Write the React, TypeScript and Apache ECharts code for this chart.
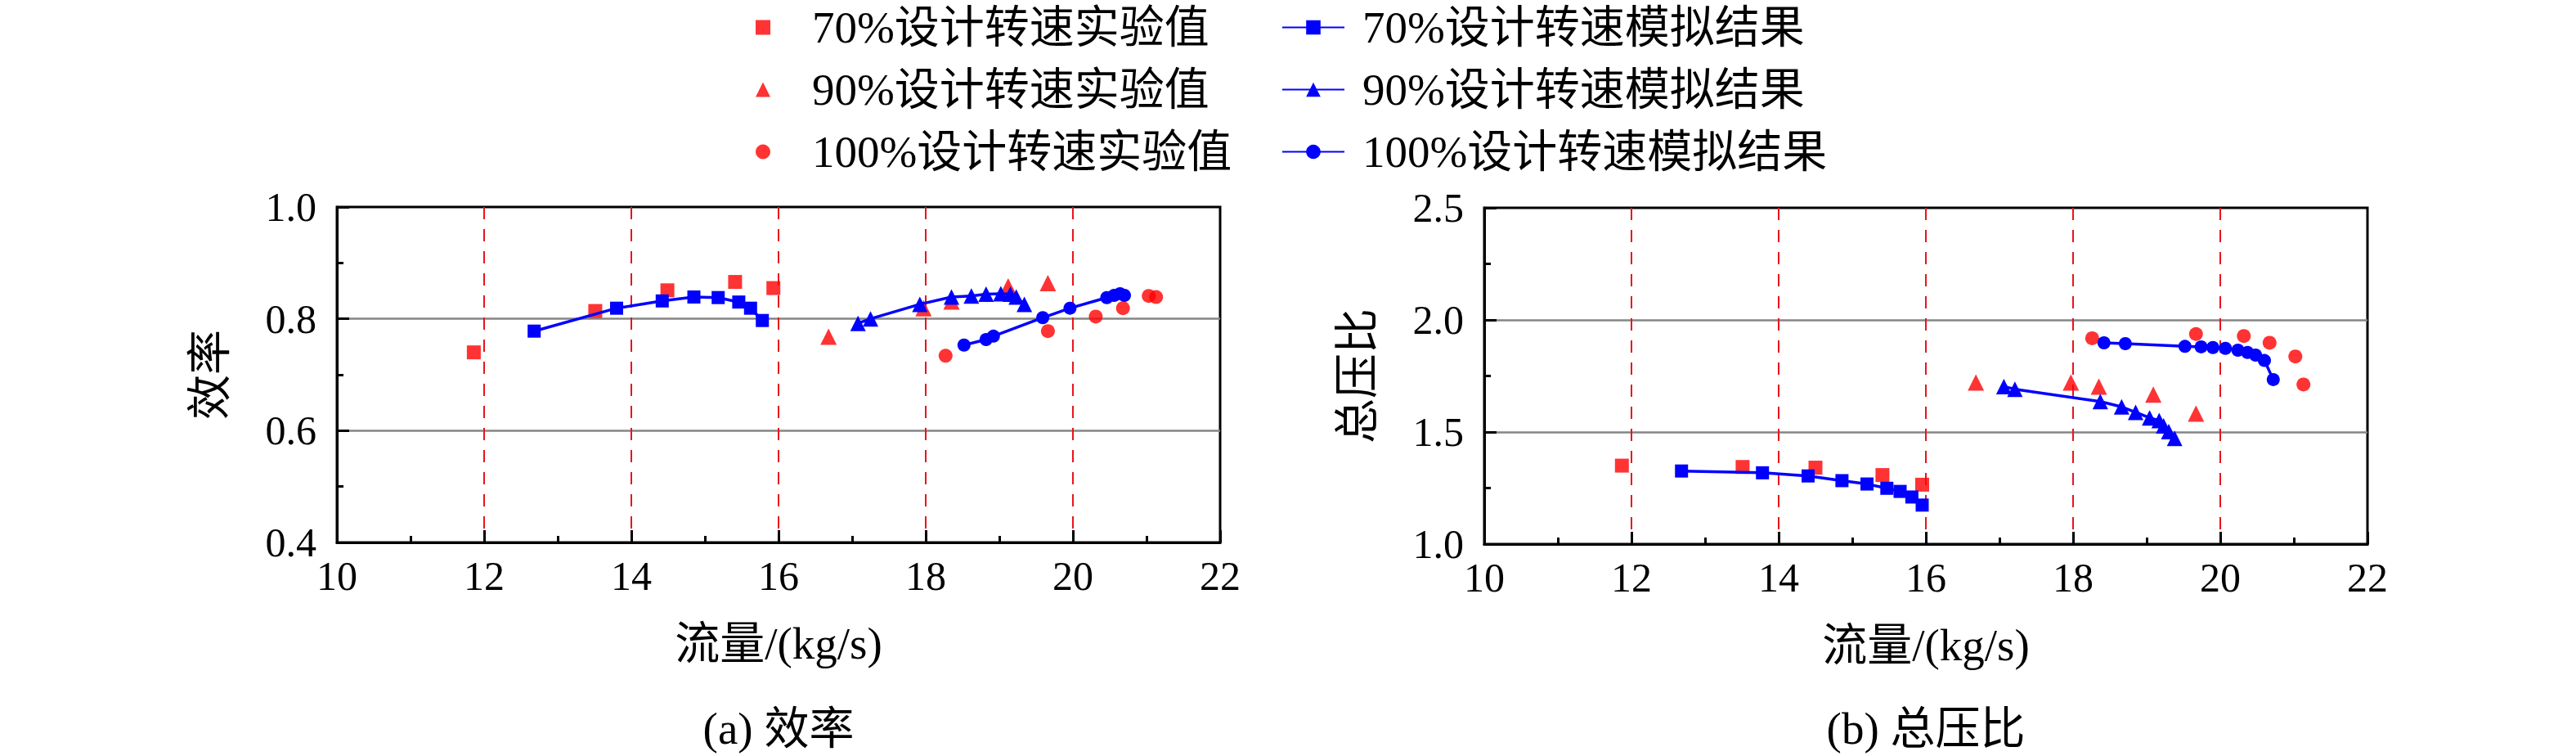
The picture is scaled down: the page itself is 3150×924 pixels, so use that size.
import React, { useEffect, useRef } from "react";
import * as echarts from "echarts";

const FONT = "'Liberation Serif', 'Times New Roman', 'Noto Sans CJK SC', serif";

const X_MIN = 10;
const X_MAX = 22;
const X_INTERVAL = 2;

const EFF_MIN = 0.4;
const EFF_MAX = 1.0;
const EFF_INTERVAL = 0.2;

const PR_MIN = 1.0;
const PR_MAX = 2.5;
const PR_INTERVAL = 0.5;

const NAMES_EXP = ["70%设计转速实验值", "90%设计转速实验值", "100%设计转速实验值"];
const NAMES_SIM = ["70%设计转速模拟结果", "90%设计转速模拟结果", "100%设计转速模拟结果"];
const SYMBOLS = ["rect", "triangle", "circle"];
const SYMBOL_SIZES = [17, 20, 17];

// (a) 效率
const effExp70 = [[11.86, 0.74], [13.51, 0.814], [14.49, 0.851], [15.41, 0.866], [15.93, 0.855]];
const effSim70 = [[12.68, 0.778], [13.8, 0.819], [14.42, 0.832], [14.85, 0.839], [15.18, 0.838], [15.46, 0.83], [15.62, 0.819], [15.78, 0.797]];
const effExp90 = [[16.68, 0.768], [17.97, 0.819], [18.35, 0.831], [19.12, 0.858], [19.66, 0.864]];
const effSim90 = [[17.08, 0.792], [17.25, 0.8], [17.92, 0.826], [18.35, 0.839], [18.62, 0.841], [18.82, 0.844], [19.02, 0.845], [19.15, 0.844], [19.23, 0.839], [19.34, 0.826]];
const effExp100 = [[18.27, 0.734], [19.66, 0.778], [20.31, 0.804], [20.68, 0.819], [21.03, 0.841], [21.13, 0.839]];
const effSim100 = [[18.52, 0.753], [18.82, 0.763], [18.92, 0.769], [19.59, 0.802], [19.96, 0.819], [20.46, 0.838], [20.56, 0.842], [20.64, 0.845], [20.7, 0.842]];

// (b) 总压比
const prExp70 = [[11.87, 1.35], [13.51, 1.344], [14.5, 1.341], [15.41, 1.308], [15.95, 1.265]];
const prSim70 = [[12.68, 1.326], [13.78, 1.318], [14.4, 1.304], [14.86, 1.283], [15.2, 1.268], [15.47, 1.249], [15.65, 1.235], [15.81, 1.21], [15.95, 1.174]];
const prExp90 = [[16.68, 1.721], [17.97, 1.721], [18.35, 1.703], [19.09, 1.667], [19.67, 1.582]];
const prSim90 = [[17.06, 1.703], [17.21, 1.691], [18.37, 1.636], [18.66, 1.612], [18.85, 1.588], [19.04, 1.563], [19.17, 1.551], [19.23, 1.527], [19.3, 1.502], [19.38, 1.472]];
const prExp100 = [[18.26, 1.918], [19.67, 1.937], [20.32, 1.928], [20.67, 1.898], [21.02, 1.837], [21.13, 1.712]];
const prSim100 = [[18.42, 1.898], [18.71, 1.894], [19.52, 1.882], [19.74, 1.88], [19.9, 1.877], [20.07, 1.873], [20.24, 1.865], [20.37, 1.855], [20.48, 1.843], [20.6, 1.819], [20.72, 1.734]];

const X_TITLE = "流量/(kg/s)";
const Y_TITLES = ["效率", "总压比"];
const CAPTIONS = ["(a) 效率", "(b) 总压比"];

const RED = "#ff0000";
const BLUE = "#0000ff";

function xAxisFor(gridIndex: number) {
  return {
    type: "value",
    gridIndex,
    min: X_MIN,
    max: X_MAX,
    interval: X_INTERVAL,
    name: X_TITLE,
    nameLocation: "middle",
    nameGap: 96,
    nameTextStyle: { fontFamily: FONT, fontSize: 55, color: "#000" },
    axisLine: { show: true, onZero: false, lineStyle: { color: "#000", width: 3 } },
    axisTick: { show: true, inside: true, length: 15, lineStyle: { color: "#000", width: 3 } },
    minorTick: { show: true, splitNumber: 2, length: 8, lineStyle: { color: "#000", width: 3 } },
    axisLabel: { fontFamily: FONT, fontSize: 50, color: "#000", margin: 16, showMinLabel: true, showMaxLabel: true },
    splitLine: { show: true, showMinLine: false, showMaxLine: false, lineStyle: { color: "#e8141c", width: 2, type: [15, 12] } },
    minorSplitLine: { show: false },
  };
}

function yAxisFor(gridIndex: number, min: number, max: number, interval: number, name: string) {
  return {
    type: "value",
    gridIndex,
    min,
    max,
    interval,
    name,
    nameLocation: "middle",
    nameRotate: 90,
    nameGap: 128,
    nameTextStyle: { fontFamily: FONT, fontSize: 55, color: "#000" },
    axisLine: { show: true, onZero: false, lineStyle: { color: "#000", width: 3 } },
    axisTick: { show: true, inside: true, length: 15, lineStyle: { color: "#000", width: 3 } },
    minorTick: { show: true, splitNumber: 2, length: 8, lineStyle: { color: "#000", width: 3 } },
    axisLabel: {
      fontFamily: FONT,
      fontSize: 50,
      color: "#000",
      margin: 25,
      padding: [0, 0, 10, 0],
      formatter: (v: number) => v.toFixed(1),
    },
    splitLine: { show: true, showMinLine: false, showMaxLine: false, lineStyle: { color: "#858585", width: 2.5 } },
  };
}

function expSeries(idx: number, data: number[][], axis: number) {
  return {
    type: "scatter",
    name: NAMES_EXP[idx],
    xAxisIndex: axis,
    yAxisIndex: axis,
    data,
    symbol: SYMBOLS[idx],
    symbolSize: SYMBOL_SIZES[idx],
    itemStyle: { color: RED },
    z: 3,
  };
}

function simSeries(idx: number, data: number[][], axis: number) {
  return {
    type: "line",
    name: NAMES_SIM[idx],
    xAxisIndex: axis,
    yAxisIndex: axis,
    data,
    symbol: SYMBOLS[idx],
    symbolSize: SYMBOL_SIZES[idx] - 1,
    showSymbol: true,
    itemStyle: { color: BLUE },
    lineStyle: { color: BLUE, width: 3.5 },
    z: 4,
  };
}

export default function App() {
  const ref = useRef<HTMLDivElement>(null);

  useEffect(() => {
    if (!ref.current) return;
    const chart = echarts.init(ref.current, null, { renderer: "svg" });
    const option = {
      animation: false,
      backgroundColor: "#ffffff",
      textStyle: { fontFamily: FONT },
      grid: [
        { left: 412, top: 253, width: 1080, height: 410, show: true, borderColor: "#000", borderWidth: 3, backgroundColor: "transparent" },
        { left: 1815, top: 254, width: 1080, height: 411, show: true, borderColor: "#000", borderWidth: 3, backgroundColor: "transparent" },
      ],
      xAxis: [xAxisFor(0), xAxisFor(1)],
      yAxis: [
        yAxisFor(0, EFF_MIN, EFF_MAX, EFF_INTERVAL, Y_TITLES[0]),
        yAxisFor(1, PR_MIN, PR_MAX, PR_INTERVAL, Y_TITLES[1]),
      ],
      legend: [
        {
          data: NAMES_EXP,
          orient: "vertical",
          left: 919,
          top: 1,
          itemWidth: 18,
          itemHeight: 18,
          itemGap: 21,
          selectedMode: false,
          textStyle: { fontFamily: FONT, fontSize: 55, color: "#000", padding: [0, 0, 0, 46] },
        },
        {
          data: NAMES_SIM,
          orient: "vertical",
          left: 1562,
          top: 1,
          itemWidth: 76,
          itemHeight: 22,
          itemGap: 21,
          selectedMode: false,
          textStyle: { fontFamily: FONT, fontSize: 55, color: "#000", padding: [0, 0, 0, 17] },
        },
      ],
      graphic: [
        {
          type: "text",
          x: 952,
          y: 890,
          style: { text: CAPTIONS[0], fontFamily: FONT, fontSize: 55, fill: "#000", textAlign: "center", textVerticalAlign: "middle" },
        },
        {
          type: "text",
          x: 2355,
          y: 890,
          style: { text: CAPTIONS[1], fontFamily: FONT, fontSize: 55, fill: "#000", textAlign: "center", textVerticalAlign: "middle" },
        },
      ],
      series: [
        expSeries(0, effExp70, 0),
        expSeries(1, effExp90, 0),
        expSeries(2, effExp100, 0),
        simSeries(0, effSim70, 0),
        simSeries(1, effSim90, 0),
        simSeries(2, effSim100, 0),
        expSeries(0, prExp70, 1),
        expSeries(1, prExp90, 1),
        expSeries(2, prExp100, 1),
        simSeries(0, prSim70, 1),
        simSeries(1, prSim90, 1),
        simSeries(2, prSim100, 1),
      ],
    };
    chart.setOption(option as any);
    return () => chart.dispose();
  }, []);

  return (
    <div
      ref={ref}
      style={{ position: "fixed", left: 0, top: 0, width: 3150, height: 924, background: "#fff" }}
    />
  );
}
